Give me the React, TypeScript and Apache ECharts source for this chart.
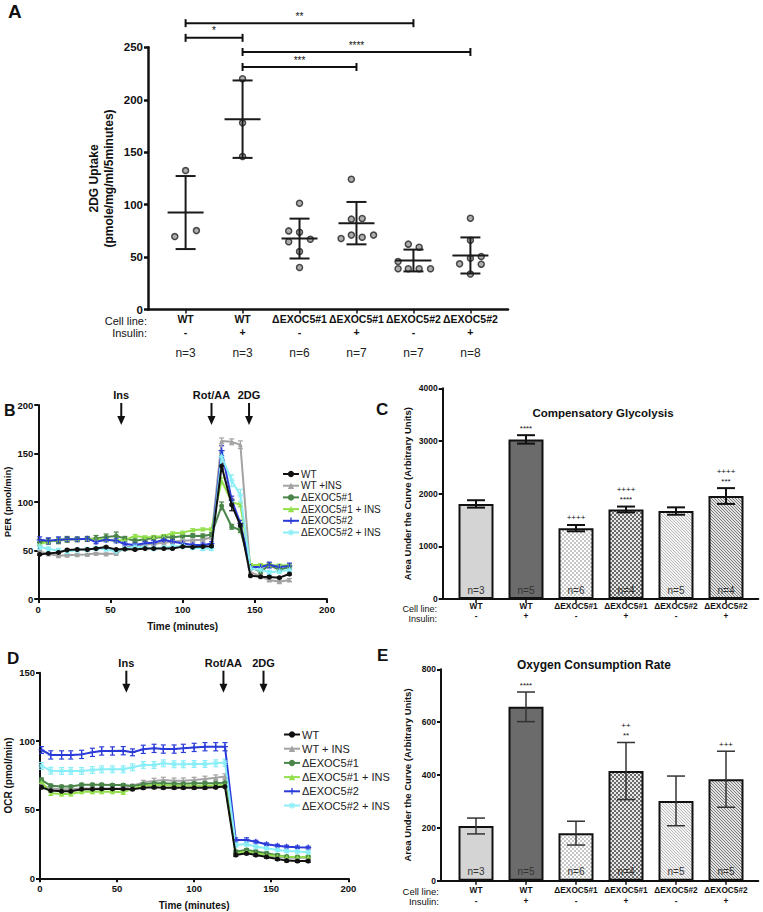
import React, { useEffect, useRef } from 'react';
import * as echarts from 'echarts';

const FONT = '"Liberation Sans", Arial, Helvetica, sans-serif';

// ---------- Panel A ----------
const groupCells = ['WT', 'WT', 'ΔEXOC5#1', 'ΔEXOC5#1', 'ΔEXOC5#2', 'ΔEXOC5#2'];
const groupInsulin = ['-', '+', '-', '+', '-', '+'];
const uptakeN = ['n=3', 'n=3', 'n=6', 'n=7', 'n=7', 'n=8'];
const uptakeValues = [
  [69.6, 75.3, 132.5],
  [220, 178, 146],
  [101.4, 75, 73.8, 67.1, 64.6, 55.3, 40.1],
  [124.3, 86.2, 86.8, 67.7, 71, 69, 71],
  [62.4, 59.5, 45.8, 38.9, 38.9, 38.9, 38.9],
  [87, 66, 49, 43.6, 50.6, 43.3, 34],
];
const uptakeJitter = [
  [-0.19, 0.19, 0],
  [0, 0, 0],
  [0, -0.19, 0, 0.19, -0.19, 0, 0],
  [-0.09, -0.09, 0.1, -0.27, -0.09, 0.1, 0.3],
  [-0.09, 0.1, -0.27, -0.27, -0.09, 0.1, 0.3],
  [0, 0, 0, -0.19, 0.19, 0.19, 0],
];
const uptakeMean = [92.5, 181.5, 67.7, 82.4, 46.8, 51.6];
const uptakeSD = [34.8, 36.9, 19, 20.2, 10.4, 17.2];
const sigFrom = [0, 0, 1, 1];
const sigTo = [4, 1, 5, 3];
const sigLevel = [273, 259, 245.5, 231.2];
const sigText = ['**', '*', '****', '***'];

// ---------- Panels B & D (time courses) ----------
const times = [1, 7, 14, 20, 27, 34, 40, 47, 54, 60, 67, 74, 80, 87, 93, 100, 107, 114, 120, 127, 134, 140, 147, 154, 160, 167, 174];
const lineNames = ['WT', 'WT +INS', 'ΔEXOC5#1', 'ΔEXOC5#1 + INS', 'ΔEXOC5#2', 'ΔEXOC5#2 + INS'];
const lineNamesD = ['WT', 'WT + INS', 'ΔEXOC5#1', 'ΔEXOC5#1 + INS', 'ΔEXOC5#2', 'ΔEXOC5#2 + INS'];
const lineColors = ['#111111', '#a3a3a3', '#4a854a', '#93e04c', '#2b3bd8', '#8aeef6'];

const perWT = [46, 47, 48, 50.5, 51, 51, 52, 53.5, 51, 51.5, 51, 52, 52, 52, 52, 54, 53.5, 54, 54.5, 137, 97, 76, 24, 23, 22.7, 22, 25.8];
const perWTIns = [49, 46.5, 44.5, 45, 45.5, 46, 47, 46.5, 47, 53, 55, 56, 57, 58, 59, 60, 60.5, 61, 63.6, 163, 162, 159, 28, 23, 19.6, 17.8, 19.6];
const perEx1 = [58.5, 59.5, 60, 61.5, 61.5, 62, 62.5, 64, 65, 62.5, 60, 61.5, 63, 64, 63.5, 65, 65.3, 65, 66.5, 96, 74.5, 71, 33, 28, 35, 30, 33];
const perEx1Ins = [57, 59, 61, 61.5, 61.5, 62, 61.5, 61, 60, 61, 65, 63.6, 64, 65, 67.7, 68.4, 71, 71.8, 72, 122, 100, 97, 35, 35, 35, 34.5, 35];
const perEx2 = [61, 60, 61, 61.5, 61.5, 62, 59, 61, 60, 56.7, 55.7, 57.4, 58, 61, 59, 57.4, 55.7, 55.7, 57, 153, 102, 78, 33, 33, 35, 33, 34];
const perEx2Ins = [54, 51.5, 50, 49, 50.5, 51, 52, 51.5, 49, 52, 54, 53, 52, 53, 54, 54.6, 53, 52, 52, 147, 122, 107, 31.6, 30, 27.5, 28.5, 30];

const perWTErr = [1, 1, 1, 1, 1, 1.5, 1, 1, 1, 1, 1, 1, 1, 1, 1, 1, 1, 1, 1, 3, 6, 5, 1, 1, 1, 1, 1];
const perWTInsErr = [1, 1, 1, 1, 1, 1, 1, 1, 1, 1, 1, 1, 1, 1, 1, 1, 1, 1, 1, 3, 3, 4, 2, 1.5, 1.5, 1.5, 1.5];
const perEx1Err = [3, 3, 3, 3, 2.5, 2.5, 3, 3, 4, 2, 2, 2, 2, 2, 2, 2, 2, 2, 2, 4, 2.5, 2.5, 2, 2, 2, 2, 2];
const perEx1InsErr = [1.5, 1.5, 1.5, 1.5, 1.5, 1.5, 1.5, 1.5, 1.5, 1.5, 1.5, 1.5, 1.5, 1.5, 1.5, 1.5, 1.5, 1.5, 1.5, 3, 2, 2, 1.5, 1.5, 1.5, 1.5, 1.5];
const perEx2Err = [3, 3, 3, 2, 2, 2, 2, 2, 2, 2, 2, 2, 2, 2, 2, 2, 2, 2, 2, 5, 4, 3, 2, 2, 3, 2, 3];
const perEx2InsErr = [3, 2, 2, 2, 2, 2, 2, 2, 2, 2, 2, 2, 2, 2, 2, 2, 2, 2, 2, 4, 6, 6, 2, 2, 2, 2, 2];

const ocrWT = [66.4, 64, 63.5, 63.5, 65, 65, 65.2, 65.2, 65.2, 65, 66, 66.4, 66.1, 66.1, 66.1, 66.1, 66.1, 66.4, 66.9, 17, 18.2, 17, 15.6, 14.1, 12.9, 12.6, 12.6];
const ocrWTIns = [68, 65.6, 65, 65, 65.6, 65.6, 65.6, 65.6, 65.6, 67.6, 70, 71, 71.7, 71.2, 71.2, 71.7, 72.5, 73.4, 74.2, 18.2, 19.5, 18.2, 17, 15.8, 15, 15, 15];
const ocrEx1 = [71.7, 67.6, 66.9, 66.9, 68.3, 68.3, 68.3, 68, 68, 67.3, 68.6, 69.3, 69.3, 69, 69, 69.3, 69.3, 69.3, 69.8, 19.5, 20.7, 19.5, 18.2, 16.8, 15.8, 15.6, 15.6];
const ocrEx1Ins = [70.5, 62, 61.5, 61.5, 63.2, 63.2, 63.2, 63.2, 62.7, 65.6, 67.3, 68, 68, 67.6, 67.6, 67.6, 67.6, 67.8, 68, 18.2, 19.5, 18.2, 17, 16.3, 15.8, 15.6, 15.6];
const ocrEx2 = [93.6, 90, 90, 90, 90.4, 91.9, 92.9, 92.9, 93.1, 91.9, 94.1, 94.8, 94.3, 94.3, 94.8, 95.5, 96, 96, 96, 28, 28, 26.7, 24.8, 23.8, 23.1, 22.6, 22.4];
const ocrEx2Ins = [82, 78.5, 78.3, 78.3, 78.3, 79, 79.5, 79.5, 79.5, 81, 82.7, 82.7, 83.9, 83.2, 83.2, 83.4, 83.4, 83.9, 84.4, 24.3, 25, 23.1, 21.9, 20.7, 19.9, 19.5, 19];

const ocrWTErr = [1, 1, 1, 1, 1, 1, 1, 1, 1, 1, 1, 1, 1, 1, 1, 1, 1, 1, 1, 1, 1, 1, 1, 1, 1, 1, 1];
const ocrWTInsErr = [1, 1, 1, 1, 1, 1, 1, 1, 1, 1, 1.5, 2, 2, 2, 2, 2, 2, 2, 2, 1, 1, 1, 1, 1, 1, 1, 1];
const ocrEx1Err = [1.5, 1, 1, 1, 1, 1, 1, 1, 1, 1, 1, 1, 1, 1, 1, 1, 1, 1, 1, 1, 1, 1, 1, 1, 1, 1, 1];
const ocrEx1InsErr = [1, 1.5, 1.5, 1.5, 1.5, 1.5, 1.5, 1.5, 1.5, 1, 1, 1, 1, 1, 1, 1, 1, 1, 1, 1, 1, 1, 1, 1, 1, 1, 1];
const ocrEx2Err = [2.5, 3, 3, 3, 3, 3, 3, 3, 3, 2.5, 3, 3, 3, 3, 3, 3, 3, 3, 3, 1.5, 1.5, 1, 1, 1, 1, 1, 1];
const ocrEx2InsErr = [2.5, 2.5, 2.5, 2.5, 2.5, 2.5, 2.5, 2.5, 2.5, 2.5, 2.5, 2.5, 2.5, 2.5, 2.5, 2.5, 2.5, 2.5, 2.5, 1.5, 1.5, 1, 1, 1, 1, 1, 1];

const perSeries = [perWT, perWTIns, perEx1, perEx1Ins, perEx2, perEx2Ins];
const perErrors = [perWTErr, perWTInsErr, perEx1Err, perEx1InsErr, perEx2Err, perEx2InsErr];
const ocrSeries = [ocrWT, ocrWTIns, ocrEx1, ocrEx1Ins, ocrEx2, ocrEx2Ins];
const ocrErrors = [ocrWTErr, ocrWTInsErr, ocrEx1Err, ocrEx1InsErr, ocrEx2Err, ocrEx2InsErr];

const injLabels = ['Ins', 'Rot/AA', '2DG'];
const injTimesB = [57.5, 120, 146];
const injTimesD = [56, 119, 145];

// ---------- Panels C & E (bars) ----------
const glycoAUC = [1805, 3030, 1345, 1700, 1670, 1955];
const glycoErr = [70, 80, 60, 55, 70, 150];
const glycoN = ['n=3', 'n=5', 'n=6', 'n=4', 'n=5', 'n=4'];
const glycoSig1 = ['', '****', '++++', '****', '', '***'];
const glycoSig2 = ['', '', '', '++++', '', '++++'];
const ocrAUC = [207, 658, 180, 415, 302, 384];
const ocrAUCErr = [30, 56, 45, 108, 94, 106];
const ocrN = ['n=3', 'n=5', 'n=6', 'n=4', 'n=5', 'n=5'];
const ocrSig1 = ['', '****', '', '**', '', '+++'];
const ocrSig2 = ['', '', '', '++', '', ''];

const PLUS = 'path://M4,0H6V4H10V6H6V10H4V6H0V4H4Z';
const STAR = 'path://M4.2,0H5.8V3.1L8.1,0.8L9.2,1.9L6.9,4.2H10V5.8H6.9L9.2,8.1L8.1,9.2L5.8,6.9V10H4.2V6.9L1.9,9.2L0.8,8.1L3.1,5.8H0V4.2H3.1L0.8,1.9L1.9,0.8L4.2,3.1Z';
const lineSymbols = ['circle', 'triangle', 'circle', 'triangle', PLUS, STAR];
const lineSymbolSizes = [5, 5, 5, 4, 6, 6];

function makePattern(kind: string, bg: string, fg: string) {
  const size = kind === 'check' ? 4 : 3;
  const c = document.createElement('canvas');
  c.width = size;
  c.height = size;
  const ctx = c.getContext('2d')!;
  ctx.fillStyle = bg;
  ctx.fillRect(0, 0, size, size);
  ctx.fillStyle = fg;
  if (kind === 'check') {
    ctx.fillRect(0, 0, 2, 2);
    ctx.fillRect(2, 2, 2, 2);
  } else {
    for (let i = 0; i < size; i++) ctx.fillRect(i, i, 1, 1);
  }
  return { image: c.toDataURL(), repeat: 'repeat', imageWidth: size, imageHeight: size };
}

function buildOption() {
  const barFills: any[] = [
    '#d4d4d4',
    '#6b6b6b',
    makePattern('check', '#ffffff', '#c6c6c6'),
    makePattern('check', '#e8e8e8', '#6a6a6a'),
    makePattern('diag', '#f3f3f3', '#bcbcbc'),
    makePattern('diag', '#e2e2e2', '#7c7c7c'),
  ];

  const tickLbl = (size: number) => ({ fontFamily: FONT, fontWeight: 'bold', fontSize: size, color: '#111' });
  const idx6 = [0, 1, 2, 3, 4, 5];

  const xCat = (grid: number, min: number, max: number, fmt: (v: number) => string, rich: any, margin: number, lw: number) => ({
    gridIndex: grid, type: 'value', min, max,
    axisLine: { show: true, onZero: false, lineStyle: { color: '#111', width: lw } },
    axisTick: { show: true, customValues: idx6, length: 4, lineStyle: { color: '#111', width: 1.5 } },
    axisLabel: { show: true, customValues: idx6, formatter: fmt, rich, margin, fontFamily: FONT },
    splitLine: { show: false },
  });
  const yVal = (grid: number, max: number, interval: number, lw: number, fs: number, name: string, nameGap: number, nameSize: number) => ({
    gridIndex: grid, type: 'value', min: 0, max, interval,
    axisLine: { show: true, onZero: false, lineStyle: { color: '#111', width: lw } },
    axisTick: { show: true, length: 4, lineStyle: { color: '#111', width: lw } },
    axisLabel: { ...tickLbl(fs), margin: 5, formatter: (v: number) => String(v) },
    splitLine: { show: false },
    name, nameLocation: 'middle', nameRotate: 90, nameGap,
    nameTextStyle: { fontFamily: FONT, fontWeight: 'bold', fontSize: nameSize, lineHeight: nameSize + 3, color: '#111' },
  });
  const xTime = (grid: number, nameGap: number) => ({
    gridIndex: grid, type: 'value', min: 0, max: 200, interval: 50,
    axisLine: { show: true, onZero: false, lineStyle: { color: '#111', width: 2 } },
    axisTick: { show: true, length: 4, lineStyle: { color: '#111', width: 2 } },
    axisLabel: { ...tickLbl(9.5), margin: 5 },
    splitLine: { show: false },
    name: 'Time (minutes)', nameLocation: 'middle', nameGap,
    nameTextStyle: { fontFamily: FONT, fontWeight: 'bold', fontSize: 10, color: '#111' },
  });

  const richA = {
    b: { fontFamily: FONT, fontWeight: 'bold', fontSize: 10.5, lineHeight: 13, color: '#111' },
    n: { fontFamily: FONT, fontSize: 12, lineHeight: 29, color: '#222' },
  };
  const richBar = {
    b: { fontFamily: FONT, fontWeight: 'bold', fontSize: 8.3, lineHeight: 10.3, color: '#111' },
  };
  const fmtA = (v: number) => {
    const i = Math.round(v);
    return `{b|${groupCells[i]}}\n{b|${groupInsulin[i]}}\n{n|${uptakeN[i]}}`;
  };
  const fmtBar = (v: number) => {
    const i = Math.round(v);
    return `{b|${groupCells[i]}}\n{b|${groupInsulin[i]}}`;
  };

  // scatter points of panel A
  const pointsA: number[][] = [];
  uptakeValues.forEach((vals, g) => vals.forEach((v, k) => pointsA.push([g + uptakeJitter[g][k], v])));

  const meanSdRender = (params: any, api: any) => {
    const x = api.value(0), m = api.value(1), sd = api.value(2);
    const c = api.coord([x, m]);
    const t = api.coord([x, m + sd]);
    const b = api.coord([x, m - sd]);
    const st = { stroke: '#1a1a1a', lineWidth: 2 };
    return {
      type: 'group', children: [
        { type: 'line', shape: { x1: c[0] - 18, y1: c[1], x2: c[0] + 18, y2: c[1] }, style: st },
        { type: 'line', shape: { x1: t[0], y1: t[1], x2: b[0], y2: b[1] }, style: st },
        { type: 'line', shape: { x1: t[0] - 10, y1: t[1], x2: t[0] + 10, y2: t[1] }, style: st },
        { type: 'line', shape: { x1: b[0] - 10, y1: b[1], x2: b[0] + 10, y2: b[1] }, style: st },
      ],
    };
  };

  const bracketRender = (params: any, api: any) => {
    const a = api.coord([api.value(0), api.value(2)]);
    const b = api.coord([api.value(1), api.value(2)]);
    const st = { stroke: '#111', lineWidth: 2 };
    return {
      type: 'group', children: [
        { type: 'line', shape: { x1: a[0], y1: a[1], x2: b[0], y2: b[1] }, style: st },
        { type: 'line', shape: { x1: a[0], y1: a[1] - 4, x2: a[0], y2: a[1] + 4 }, style: st },
        { type: 'line', shape: { x1: b[0], y1: b[1] - 4, x2: b[0], y2: b[1] + 4 }, style: st },
        {
          type: 'text',
          style: { text: sigText[params.dataIndex], x: (a[0] + b[0]) / 2, y: a[1] - 2, align: 'center', verticalAlign: 'bottom', font: `10px ${FONT}`, fill: '#111' },
        },
      ],
    };
  };

  const errRender = (capHalf: number, lw: number, color: string) => (params: any, api: any) => {
    const x = api.value(0), lo = api.value(1), hi = api.value(2);
    const a = api.coord([x, hi]);
    const b = api.coord([x, lo]);
    const st = { stroke: color, lineWidth: lw };
    return {
      type: 'group', children: [
        { type: 'line', shape: { x1: a[0], y1: a[1], x2: b[0], y2: b[1] }, style: st },
        { type: 'line', shape: { x1: a[0] - capHalf, y1: a[1], x2: a[0] + capHalf, y2: a[1] }, style: st },
        { type: 'line', shape: { x1: b[0] - capHalf, y1: b[1], x2: b[0] + capHalf, y2: b[1] }, style: st },
      ],
    };
  };

  const arrowRender = (ymax: number) => (params: any, api: any) => {
    const p = api.coord([api.value(0), ymax]);
    const x = p[0], y = p[1];
    return {
      type: 'group', children: [
        { type: 'text', style: { text: injLabels[params.dataIndex], x, y: y - 10, align: 'center', verticalAlign: 'middle', font: `bold 11px ${FONT}`, fill: '#111' } },
        { type: 'line', shape: { x1: x, y1: y - 2, x2: x, y2: y + 13 }, style: { stroke: '#111', lineWidth: 2 } },
        { type: 'polygon', shape: { points: [[x - 4, y + 11], [x + 4, y + 11], [x, y + 20]] }, style: { fill: '#111' } },
      ],
    };
  };

  const sigRender = (l1: string[], l2: string[]) => (params: any, api: any) => {
    const p = api.coord([api.value(0), api.value(1)]);
    const i = params.dataIndex;
    return {
      type: 'group', children: [
        { type: 'text', style: { text: l1[i], x: p[0], y: p[1] - 7, align: 'center', verticalAlign: 'middle', font: `8px ${FONT}`, fill: '#111' } },
        { type: 'text', style: { text: l2[i], x: p[0], y: p[1] - 17, align: 'center', verticalAlign: 'middle', font: `8px ${FONT}`, fill: '#111' } },
      ],
    };
  };

  const series: any[] = [];

  // Panel A
  series.push({
    type: 'scatter', xAxisIndex: 0, yAxisIndex: 0, data: pointsA, symbol: 'circle', symbolSize: 6,
    itemStyle: { color: '#9a9a9a', borderColor: '#222', borderWidth: 1.5 }, z: 3,
  });
  series.push({
    type: 'custom', xAxisIndex: 0, yAxisIndex: 0, renderItem: meanSdRender, clip: false, z: 4,
    data: uptakeMean.map((m, i) => [i, m, uptakeSD[i]]),
  });
  series.push({
    type: 'custom', xAxisIndex: 0, yAxisIndex: 0, renderItem: bracketRender, clip: false, z: 4,
    data: sigFrom.map((f, i) => [f, sigTo[i], sigLevel[i]]),
  });

  // Panels B and D
  const addLines = (xi: number, names: string[], vals: number[][], errs: number[][]) => {
    vals.forEach((arr, s) => {
      series.push({
        type: 'line', name: names[s], xAxisIndex: xi, yAxisIndex: xi,
        data: times.map((t, i) => [t, arr[i]]),
        symbol: lineSymbols[s], symbolSize: lineSymbolSizes[s],
        itemStyle: { color: lineColors[s] }, lineStyle: { color: lineColors[s], width: 2 }, z: 3 + (s === 0 ? 2 : 0),
      });
      series.push({
        type: 'custom', xAxisIndex: xi, yAxisIndex: xi, renderItem: errRender(2.5, 1.2, lineColors[s]), z: 3,
        data: times.map((t, i) => [t, arr[i] - errs[s][i], arr[i] + errs[s][i]]),
      });
    });
  };
  addLines(1, lineNames, perSeries, perErrors);
  addLines(3, lineNamesD, ocrSeries, ocrErrors);
  series.push({ type: 'custom', xAxisIndex: 1, yAxisIndex: 1, renderItem: arrowRender(200), clip: false, data: injTimesB.map((t) => [t, 0]) });
  series.push({ type: 'custom', xAxisIndex: 3, yAxisIndex: 3, renderItem: arrowRender(150), clip: false, data: injTimesD.map((t) => [t, 0]) });

  // Panels C and E
  const addBars = (xi: number, vals: number[], errs: number[], ns: string[], s1: string[], s2: string[], errW: number, errC: string) => {
    series.push({
      type: 'bar', xAxisIndex: xi, yAxisIndex: xi, barWidth: 35,
      data: vals.map((v, i) => ({ value: [i, v], itemStyle: { color: barFills[i], borderColor: '#111', borderWidth: 2 } })),
      label: {
        show: true, position: 'insideBottom', distance: 4, formatter: (p: any) => ns[p.dataIndex],
        fontFamily: FONT, fontSize: 10, color: '#333',
      },
      z: 2,
    });
    series.push({
      type: 'custom', xAxisIndex: xi, yAxisIndex: xi, renderItem: errRender(9, errW, errC), z: 4,
      data: vals.map((v, i) => [i, v - errs[i], v + errs[i]]),
    });
    series.push({
      type: 'custom', xAxisIndex: xi, yAxisIndex: xi, renderItem: sigRender(s1, s2), clip: false, z: 4,
      data: vals.map((v, i) => [i, v + errs[i]]),
    });
  };
  addBars(2, glycoAUC, glycoErr, glycoN, glycoSig1, glycoSig2, 2, '#111');
  addBars(4, ocrAUC, ocrAUCErr, ocrN, ocrSig1, ocrSig2, 1.5, '#333');

  const legendCommon = {
    orient: 'vertical', itemWidth: 16, itemHeight: 8, selectedMode: false,
  };

  const txt = (text: string, x: number, y: number, font: string, align = 'left') => ({
    type: 'text', x, y, style: { text, font, fill: '#111', align, verticalAlign: 'middle' }, silent: true,
  });

  return {
    animation: false,
    backgroundColor: '#ffffff',
    grid: [
      { left: 148, top: 47.3, width: 360, height: 262.3 },
      { left: 35, top: 405, width: 292, height: 194 },
      { left: 442.7, top: 388.3, width: 315.6, height: 210.7 },
      { left: 40, top: 672.7, width: 308.3, height: 205.6 },
      { left: 441, top: 669.3, width: 317.3, height: 211.4 },
    ],
    xAxis: [
      xCat(0, -0.66, 5.66, fmtA, richA, 2.4, 2.5),
      xTime(1, 22),
      xCat(2, -0.666, 5.646, fmtBar, richBar, 2, 2),
      xTime(3, 22),
      xCat(4, -0.7, 5.646, fmtBar, richBar, 4.5, 2),
    ],
    yAxis: [
      yVal(0, 250, 50, 2.5, 11.5, '2DG Uptake\n(pmole/mg/ml/5minutes)', 32, 12),
      yVal(1, 200, 50, 2, 9.5, 'PER (pmol/min)', 21, 9.5),
      yVal(2, 4000, 1000, 2, 8.5, 'Area Under the Curve (Arbitrary Units)', 29, 9.5),
      yVal(3, 150, 50, 2, 9.5, 'OCR (pmol/min)', 24, 10),
      yVal(4, 800, 200, 2, 8.5, 'Area Under the Curve (Arbitrary Units)', 27, 9.5),
    ],
    legend: [
      {
        ...legendCommon, data: lineNames, left: 277, top: 464, itemGap: 1.7,
        textStyle: { fontFamily: FONT, fontSize: 10, lineHeight: 10, color: '#222', padding: [0, 0, 0, -3] },
      },
      {
        ...legendCommon, data: lineNamesD, left: 278, top: 724, itemGap: 3.2,
        textStyle: { fontFamily: FONT, fontSize: 11, lineHeight: 11, color: '#222', padding: [0, 0, 0, -3] },
      },
    ],
    graphic: [
      txt('A', 8, 11, `bold 19px ${FONT}`),
      txt('B', 4, 410, `bold 16px ${FONT}`),
      txt('C', 376, 409, `bold 17px ${FONT}`),
      txt('D', 7, 658, `bold 17px ${FONT}`),
      txt('E', 377, 655, `bold 17px ${FONT}`),
      txt('Cell line:', 147, 321, `11px ${FONT}`, 'right'),
      txt('Insulin:', 147, 333, `11px ${FONT}`, 'right'),
      txt('Cell line:', 437, 608.5, `9px ${FONT}`, 'right'),
      txt('Insulin:', 437, 618.5, `9px ${FONT}`, 'right'),
      txt('Cell line:', 439, 891, `9.5px ${FONT}`, 'right'),
      txt('Insulin:', 439, 901, `9.5px ${FONT}`, 'right'),
      txt('Compensatory Glycolysis', 603, 413, `bold 11.5px ${FONT}`, 'center'),
      txt('Oxygen Consumption Rate', 594, 665, `bold 12px ${FONT}`, 'center'),
    ],
    series,
  };
}

export default function App() {
  const ref = useRef<HTMLDivElement>(null);
  useEffect(() => {
    const chart = echarts.init(ref.current!, null, { renderer: 'svg' });
    chart.setOption(buildOption() as any);
    return () => chart.dispose();
  }, []);
  return (
    <div
      ref={ref}
      style={{ position: 'fixed', left: 0, top: 0, width: 763, height: 912, background: '#fff' }}
    />
  );
}
